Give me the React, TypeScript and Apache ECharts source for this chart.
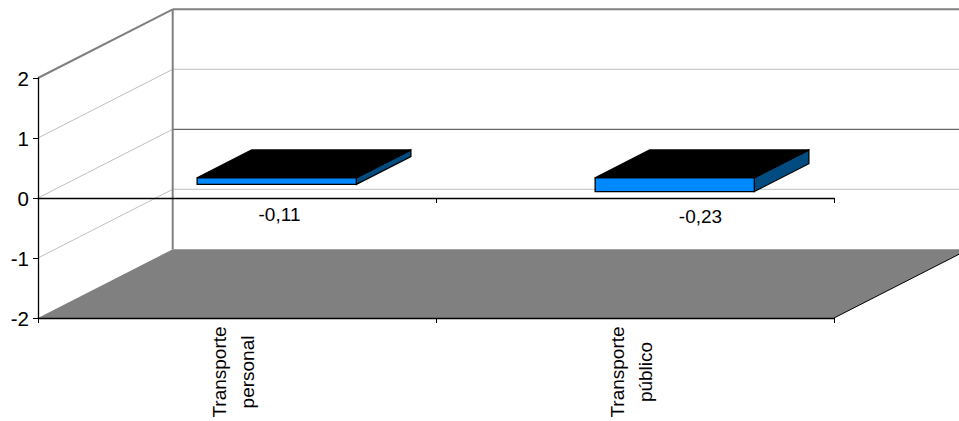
import React, { useEffect, useRef } from "react";
import * as echarts from "echarts";

const categories = ["Transporte\npersonal", "Transporte\npúblico"];
const values = [-0.11, -0.23];
const yTicks = [-2, -1, 0, 1, 2];

const DEPTH_X = 134.7;
const DEPTH_Y = -68.7;
const BAR_FRONT = 0.295;
const BAR_BACK = 0.7;
const BAR_WIDTH = 0.4;
const LABEL_SHIFT = [[42.5, 16.5], [65.5, 18.5]];

function wallsItem(params: any, api: any) {
  const cs = params.coordSys;
  const left = cs.x;
  const right = cs.x + cs.width;
  const yOf = (v: number) => api.coord([0, v])[1];
  const children: any[] = [];
  const bottomY = yOf(-2);
  children.push({
    type: "polygon",
    shape: {
      points: [
        [left, bottomY],
        [left + DEPTH_X, bottomY + DEPTH_Y],
        [right + DEPTH_X, bottomY + DEPTH_Y],
        [right, bottomY],
      ],
    },
    style: { fill: "#808080", stroke: "none" },
  });
  children.push({
    type: "line",
    shape: { x1: right, y1: bottomY, x2: right + DEPTH_X, y2: bottomY + DEPTH_Y },
    style: { stroke: "#000000", lineWidth: 1 },
  });
  yTicks.forEach((t) => {
    if (t === -2) return;
    const y = yOf(t);
    const edge = t === 2;
    children.push({
      type: "line",
      shape: { x1: left, y1: y, x2: left + DEPTH_X, y2: y + DEPTH_Y },
      style: { stroke: edge ? "#808080" : "#c0c0c0", lineWidth: edge ? 2 : 1 },
    });
    children.push({
      type: "line",
      shape: { x1: left + DEPTH_X, y1: y + DEPTH_Y, x2: right + DEPTH_X, y2: y + DEPTH_Y },
      style: {
        stroke: edge ? "#808080" : t === 0 ? "#404040" : "#c0c0c0",
        lineWidth: edge ? 2 : 1,
      },
    });
  });
  children.push({
    type: "line",
    shape: { x1: left + DEPTH_X, y1: yOf(2) + DEPTH_Y, x2: left + DEPTH_X, y2: bottomY + DEPTH_Y },
    style: { stroke: "#808080", lineWidth: 2 },
  });
  return { type: "group", children };
}

function barItem(params: any, api: any) {
  const idx = api.value(0);
  const value = api.value(1);
  const center = api.coord([idx, 0]);
  const end = api.coord([idx, value]);
  const floor = api.coord([idx, -2]);
  const band = api.size([1, 0])[0];
  const w = band * BAR_WIDTH;
  const fx = DEPTH_X * BAR_FRONT;
  const fy = DEPTH_Y * BAR_FRONT;
  const bx = DEPTH_X * BAR_BACK;
  const by = DEPTH_Y * BAR_BACK;
  const x0 = center[0] - w / 2 + fx;
  const x1 = x0 + w;
  const top = center[1] + fy;
  const bot = end[1] + fy;
  const dx = bx - fx;
  const dy = by - fy;
  const line = { stroke: "#000000", lineWidth: 1.3, lineJoin: "miter" };
  const shift = LABEL_SHIFT[params.dataIndex];
  return {
    type: "group",
    children: [
      {
        type: "polygon",
        shape: { points: [[x1, top], [x1 + dx, top + dy], [x1 + dx, bot + dy], [x1, bot]] },
        style: { fill: "#004c80", ...line },
      },
      {
        type: "polygon",
        shape: { points: [[x0, top], [x1, top], [x1 + dx, top + dy], [x0 + dx, top + dy]] },
        style: { fill: "#000000", ...line },
      },
      {
        type: "polygon",
        shape: { points: [[x0, top], [x1, top], [x1, bot], [x0, bot]] },
        style: { fill: "#0088ff", ...line },
      },
      {
        type: "text",
        x: center[0] + shift[0],
        y: center[1] + shift[1],
        style: {
          text: value.toFixed(2).replace(".", ","),
          fill: "#000000",
          font: "19px 'Liberation Sans'",
          align: "center",
          verticalAlign: "middle",
        },
      },
      {
        type: "text",
        x: floor[0] - 3.5,
        y: floor[1] + 54,
        rotation: Math.PI / 2,
        style: {
          text: categories[idx],
          fill: "#000000",
          font: "19px 'Liberation Sans'",
          lineHeight: 28,
          align: "center",
          verticalAlign: "middle",
        },
      },
    ],
  };
}

export default function App() {
  const ref = useRef<HTMLDivElement>(null);
  useEffect(() => {
    document.body.style.margin = "0";
    const chart = echarts.init(ref.current!, undefined, { renderer: "svg" });
    const axisLine = { lineStyle: { color: "#000000", width: 1.3 } };
    chart.setOption({
      animation: false,
      backgroundColor: "#ffffff",
      textStyle: { fontFamily: "'Liberation Sans'" },
      grid: { left: 38, top: 78, width: 796, height: 240, containLabel: false },
      xAxis: [
        {
          type: "category",
          data: categories,
          position: "bottom",
          z: 5,
          axisLine: { ...axisLine, onZero: false },
          axisTick: { show: true, length: 5, lineStyle: { color: "#000000" } },
          splitLine: { show: false },
          axisLabel: { show: false },
        },
        {
          type: "category",
          data: categories,
          z: 5,
          axisLine: { ...axisLine, onZero: true },
          axisTick: { show: true, inside: true, length: 5, lineStyle: { color: "#000000" } },
          axisLabel: { show: false },
          splitLine: { show: false },
        },
      ],
      yAxis: {
        type: "value",
        min: -2,
        max: 2,
        interval: 1,
        z: 5,
        axisLine: { show: true, onZero: false, ...axisLine },
        axisTick: { show: true, length: 5, lineStyle: { color: "#000000" } },
        splitLine: { show: false },
        axisLabel: {
          margin: 9,
          color: "#000000",
          fontFamily: "'Liberation Sans'",
          fontSize: 20.5,
        },
      },
      series: [
        {
          type: "custom",
          silent: true,
          z: 1,
          renderItem: wallsItem,
          data: [[0, 0]],
          encode: { x: 0, y: 1 },
        },
        {
          type: "custom",
          silent: true,
          z: 2,
          renderItem: barItem,
          data: values.map((v, i) => [i, v]),
          encode: { x: 0, y: 1 },
        },
      ],
    });
    return () => chart.dispose();
  }, []);
  return <div ref={ref} style={{ width: 959, height: 421 }} />;
}
